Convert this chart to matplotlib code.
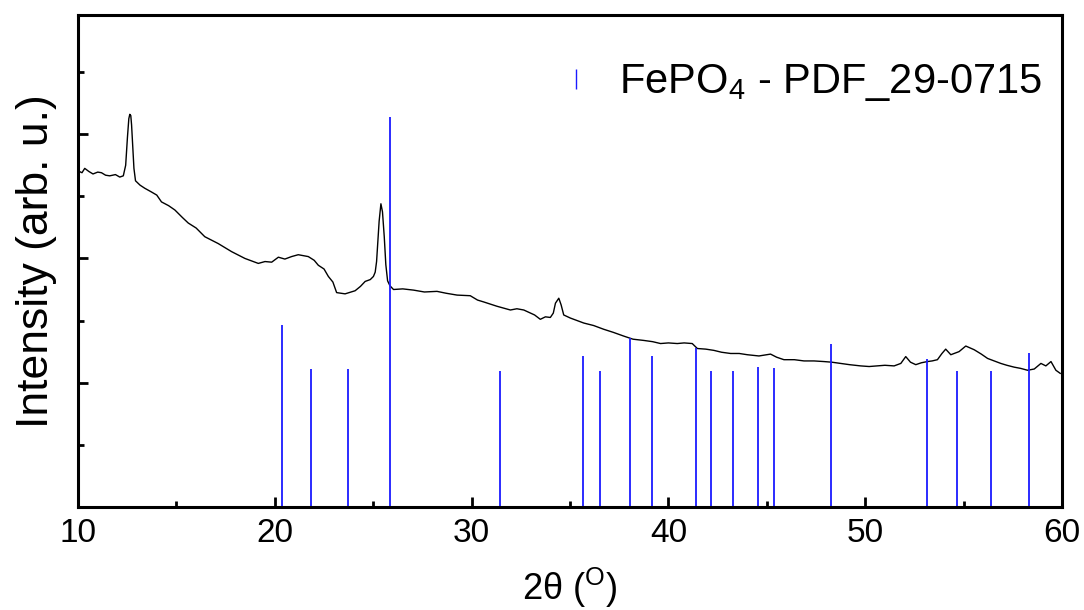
import numpy as np
import matplotlib
matplotlib.use("Agg")
from matplotlib import pyplot as plt
from matplotlib.lines import Line2D
from matplotlib.ticker import MultipleLocator, NullFormatter

plt.rcParams['font.family'] = ['Liberation Sans', 'DejaVu Sans']
plt.rcParams['mathtext.fontset'] = 'custom'
plt.rcParams['mathtext.rm'] = 'Liberation Sans'
plt.rcParams['mathtext.it'] = 'Liberation Sans:italic'

# measured XRD pattern (2theta, intensity in arb. units)
two_theta = [10.0, 10.2, 10.34, 10.55, 10.76, 11.0, 11.19, 11.4, 11.61, 11.9,
             12.12, 12.3, 12.42, 12.51, 12.58, 12.63, 12.68, 12.72, 12.76, 12.84,
             12.92, 13.15, 13.39, 13.73, 14.0, 14.24, 14.6, 14.92, 15.3, 15.6,
             16.0, 16.44, 17.12, 17.8, 18.48, 19.16, 19.5, 19.84, 20.18, 20.51,
             20.85, 21.19, 21.7, 22.0, 22.21, 22.5, 22.72, 22.95, 23.14, 23.57,
             24.08, 24.35, 24.59, 24.85, 25.01, 25.1, 25.17, 25.22, 25.3, 25.39,
             25.47, 25.56, 25.64, 25.73, 25.85, 26.03, 26.5, 27.05, 27.6, 28.24,
             28.7, 29.26, 29.93, 30.3, 30.61, 31.29, 31.97, 32.3, 32.65, 32.99,
             33.2, 33.49, 33.75, 34.0, 34.15, 34.26, 34.43, 34.55, 34.68, 35.02,
             35.7, 36.2, 36.71, 37.2, 37.73, 38.2, 38.75, 39.2, 39.6, 40.0,
             40.45, 40.8, 41.21, 41.47, 41.9, 42.31, 42.7, 43.16, 43.6, 44.01,
             44.6, 45.19, 45.5, 45.87, 46.4, 46.89, 47.4, 47.9, 48.3, 48.75,
             49.2, 49.77, 50.2, 50.62, 51.0, 51.47, 51.81, 52.06, 52.3, 52.57,
             52.85, 53.16, 53.4, 53.67, 53.9, 54.09, 54.35, 54.77, 55.11, 55.54,
             55.9, 56.22, 56.89, 57.2, 57.57, 57.9, 58.25, 58.59, 58.93, 59.18,
             59.44, 59.69, 59.91]
intensity = [5.41, 5.38, 5.45, 5.40, 5.36, 5.39, 5.38, 5.34, 5.33, 5.35,
             5.31, 5.33, 5.50, 5.95, 6.25, 6.32, 6.30, 6.15, 5.91, 5.45,
             5.25, 5.18, 5.13, 5.07, 5.02, 4.91, 4.85, 4.78, 4.66, 4.57,
             4.49, 4.35, 4.24, 4.11, 4.00, 3.92, 3.95, 3.94, 4.02, 3.99,
             4.03, 4.06, 4.03, 3.97, 3.89, 3.83, 3.71, 3.62, 3.45, 3.43,
             3.48, 3.55, 3.63, 3.66, 3.71, 3.78, 3.95, 4.20, 4.60, 4.88,
             4.75, 4.35, 3.90, 3.64, 3.56, 3.50, 3.51, 3.49, 3.46, 3.47,
             3.44, 3.41, 3.40, 3.33, 3.30, 3.23, 3.17, 3.19, 3.17, 3.12,
             3.09, 3.02, 3.06, 3.05, 3.12, 3.28, 3.36, 3.25, 3.09, 3.04,
             2.96, 2.92, 2.86, 2.81, 2.75, 2.70, 2.68, 2.66, 2.63, 2.64,
             2.63, 2.64, 2.63, 2.55, 2.54, 2.52, 2.49, 2.47, 2.47, 2.45,
             2.43, 2.46, 2.41, 2.37, 2.37, 2.35, 2.35, 2.34, 2.33, 2.31,
             2.29, 2.27, 2.26, 2.27, 2.28, 2.27, 2.31, 2.42, 2.33, 2.29,
             2.32, 2.34, 2.35, 2.37, 2.47, 2.54, 2.45, 2.50, 2.59, 2.53,
             2.46, 2.39, 2.31, 2.28, 2.25, 2.23, 2.20, 2.22, 2.31, 2.27,
             2.34, 2.20, 2.15]

# reference pattern FePO4 PDF 29-0715
ref_pos = [20.36, 21.83, 23.72, 25.85, 31.46, 35.65, 36.53, 38.06, 39.18, 41.40,
           42.17, 43.27, 44.53, 45.36, 48.27, 53.15, 54.68, 56.38, 58.32]
ref_int = [2.93, 2.22, 2.22, 6.28, 2.18, 2.43, 2.18, 2.72, 2.43, 2.56,
           2.18, 2.18, 2.26, 2.23, 2.63, 2.38, 2.18, 2.18, 2.47]
ref_label = 'FePO$_4$ - PDF_29-0715'

fig = plt.figure(figsize=(10.84, 6.10), dpi=100)
ax = fig.add_axes([0.072, 0.169, 0.9077, 0.8065])

ax.plot(two_theta, intensity, color='black', lw=1.0)
ax.vlines(ref_pos, 0, ref_int, color='#1a1aff', lw=1.3)

ax.set_xlim(10, 60)
ax.set_ylim(0, 7.92)
ax.xaxis.set_major_locator(MultipleLocator(10))
ax.xaxis.set_minor_locator(MultipleLocator(5))
ax.yaxis.set_major_locator(MultipleLocator(2))
ax.yaxis.set_minor_locator(MultipleLocator(1))
ax.yaxis.set_major_formatter(NullFormatter())
ax.tick_params(which='both', direction='in', width=2, top=False, right=False)
ax.tick_params(which='major', length=7)
ax.tick_params(which='minor', length=4.5)
ax.tick_params(axis='x', labelsize=24, pad=8)
for s in ax.spines.values():
    s.set_linewidth(2.2)

ax.set_xlabel('2θ ($^{\\mathrm{O}}$)', fontsize=26, labelpad=12)
ax.set_ylabel('Intensity (arb. u.)', fontsize=32, labelpad=12)

handle = Line2D([], [], color='#1a1aff', marker='|', linestyle='none',
                markersize=15, markeredgewidth=1.0)
ax.legend([handle], [ref_label], loc='upper right', frameon=False,
          fontsize=30, handlelength=1.0, handletextpad=0.55,
          bbox_to_anchor=(1.018, 0.98))

fig.savefig('out.png', dpi=100)
